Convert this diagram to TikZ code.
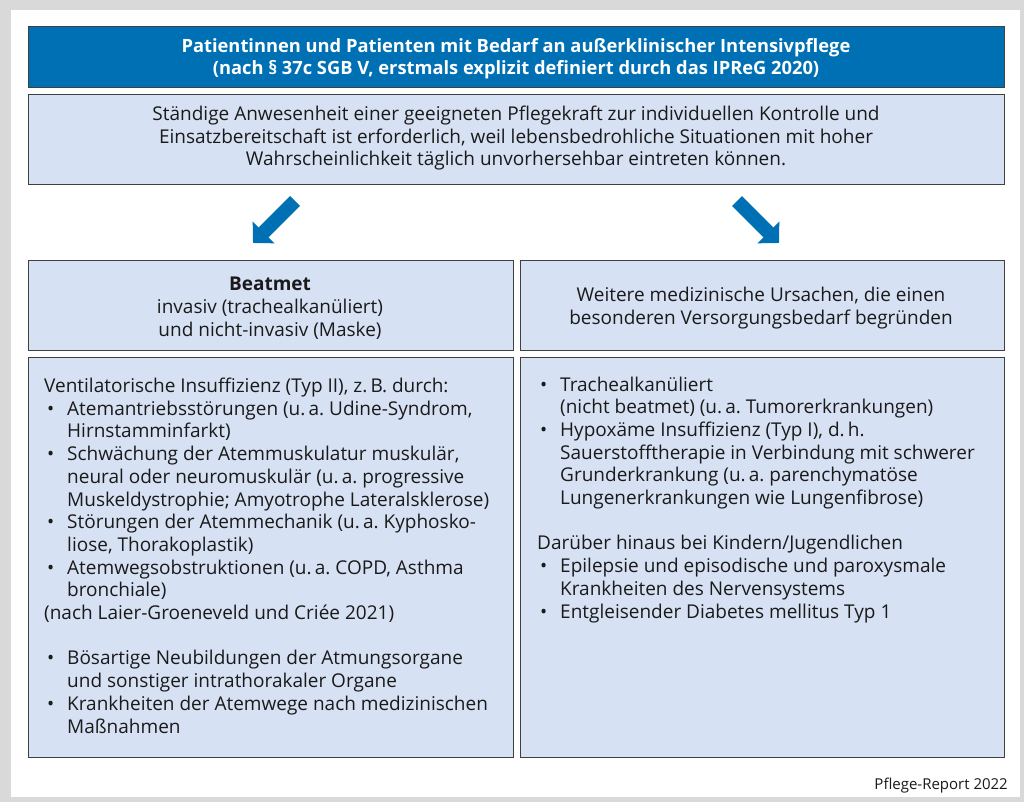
\documentclass[tikz,border=0pt]{standalone}
\usepackage{fontspec}
\setmainfont{Open Sans}
\usetikzlibrary{arrows.meta}
\definecolor{ipblue}{HTML}{0070B5}
\definecolor{iplight}{HTML}{D7E1F4}
\definecolor{ipframe}{HTML}{D9D9D9}
\definecolor{iptext}{HTML}{1A1A1A}
\newcommand\bl[1]{\makebox[23pt][l]{\hspace*{3pt}•}#1}
\newcommand\ct[1]{\hspace*{23pt}#1}
\frenchspacing
\begin{document}
\begin{tikzpicture}[x=1pt,y=-1pt,
  box/.style={draw=black!75,line width=1pt},
  lightbox/.style={box,fill=iplight},
  txt/.style={inner sep=0pt,text=iptext,font=\fontsize{19}{22.7}\selectfont},
  ctxt/.style={txt,align=center,anchor=base},
  ltxt/.style={txt,align=left,anchor=base west},
  blockarrow/.style={draw=ipblue,line width=14pt,line cap=butt,-{Triangle[width=30pt,length=15pt]}}]
\useasboundingbox (0,0) rectangle (1024,802);
\fill[ipframe] (0,0) rectangle (1024,802);
\fill[white] (11,10) rectangle (1020,797);
% boxes
\draw[box,fill=ipblue] (28,27) rectangle (1004,88);
\draw[lightbox] (28,95) rectangle (1004,185);
\draw[lightbox] (28,260) rectangle (513,350);
\draw[lightbox] (520,260) rectangle (1004,350);
\draw[lightbox] (28,357) rectangle (513,757);
\draw[lightbox] (520,357) rectangle (1004,757);
% texts (anchored at the baseline of their last line)
\node[ctxt,text=white,font=\fontsize{18.3}{22.7}\selectfont\bfseries] (title) at (516,75)
  {Patientinnen und Patienten mit Bedarf an außerklinischer Intensivpflege\\(nach § 37c SGB V, erstmals explizit definiert durch das IPReG 2020)};
\node[ctxt] (need) at (516,166)
  {Ständige Anwesenheit einer geeigneten Pflegekraft zur individuellen Kontrolle und\\Einsatzbereitschaft ist erforderlich, weil lebensbedrohliche Situationen mit hoher\\Wahrscheinlichkeit täglich unvorhersehbar eintreten können.};
\node[ctxt] (beat) at (270,336)
  {\textbf{Beatmet}\\invasiv (trachealkanüliert)\\und nicht-invasiv (Maske)};
\node[ctxt] (other) at (761,324)
  {Weitere medizinische Ursachen, die einen\\besonderen Versorgungsbedarf begründen};
\node[ltxt] (leftlist) at (44,733)
  {Ventilatorische Insuffizienz (Typ II), z.\,B. durch:\\
   \bl{Atemantriebsstörungen (u.\,a. Udine-Syndrom,}\\
   \ct{Hirnstamminfarkt)}\\
   \bl{Schwächung der Atemmuskulatur muskulär,}\\
   \ct{neural oder neuromuskulär (u.\,a. progressive}\\
   \ct{Muskeldystrophie; Amyotrophe Lateralsklerose)}\\
   \bl{Störungen der Atemmechanik (u.\,a. Kyphosko-}\\
   \ct{liose, Thorakoplastik)}\\
   \bl{Atemwegsobstruktionen (u.\,a. COPD, Asthma}\\
   \ct{bronchiale)}\\
   (nach Laier-Groeneveld und Criée 2021)\\[22.7pt]
   \bl{Bösartige Neubildungen der Atmungsorgane}\\
   \ct{und sonstiger intrathorakaler Organe}\\
   \bl{Krankheiten der Atemwege nach medizinischen}\\
   \ct{Maßnahmen}};
\node[ltxt] (rightlist) at (537,618)
  {\bl{Trachealkanüliert}\\
   \ct{(nicht beatmet) (u.\,a. Tumorerkrankungen)}\\
   \bl{Hypoxäme Insuffizienz (Typ I), d.\,h.}\\
   \ct{Sauerstofftherapie in Verbindung mit schwerer}\\
   \ct{Grunderkrankung (u.\,a. parenchymatöse}\\
   \ct{Lungenerkrankungen wie Lungenfibrose)}\\[22.7pt]
   Darüber hinaus bei Kindern/Jugendlichen\\
   \bl{Epilepsie und episodische und paroxysmale}\\
   \ct{Krankheiten des Nervensystems}\\
   \bl{Entgleisender Diabetes mellitus Typ 1}};
\node[txt,anchor=base east,font=\fontsize{15}{18}\selectfont] (src) at (1008,789) {Pflege-Report 2022};
% arrows
\coordinate (la1) at (295,201);
\coordinate (la2) at (253,243);
\coordinate (ra1) at (737,201);
\coordinate (ra2) at (779,243);
\draw[blockarrow] (la1) -- (la2);
\draw[blockarrow] (ra1) -- (ra2);
\end{tikzpicture}
\end{document}
